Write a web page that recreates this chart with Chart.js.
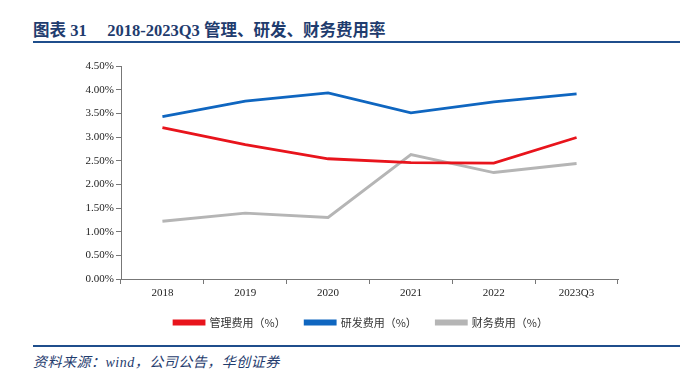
<!DOCTYPE html>
<html>
<head>
<meta charset="utf-8">
<script src="https://cdn.jsdelivr.net/npm/chart.js@4"></script>
<style>
    body { margin: 0; width: 695px; height: 370px; background: #fff; position: relative; overflow: hidden; }
    .title { position: absolute; left: 33px; top: 17px; font: bold 16.5px "Liberation Serif", "Noto Sans CJK SC", serif; color: #1f3c6e; white-space: nowrap; }
    .rule { position: absolute; left: 33px; width: 647px; height: 2px; background: #1f4e8c; }
    .source { position: absolute; left: 33px; top: 351px; font: italic 14px "Liberation Serif", "Noto Sans CJK SC", serif; letter-spacing: 0.5px; color: #1f3c6e; }
    .wrap { position: absolute; left: 0; top: 50px; width: 695px; height: 288px; }
</style>
</head>
<body>
<div class="title">图表 31&nbsp;&nbsp;&nbsp;&nbsp;&nbsp;2018-2023Q3 管理、研发、财务费用率</div>
<div class="rule" style="top:41px"></div>
<div class="wrap"><canvas id="chart"></canvas></div>
<div class="rule" style="top:345px"></div>
<div class="source">资料来源：wind，公司公告，华创证券</div>
<script>
// 数据
const categories = ['2018', '2019', '2020', '2021', '2022', '2023Q3'];
const mgmtRate = [3.20, 2.84, 2.54, 2.46, 2.45, 2.99];
const rdRate = [3.43, 3.76, 3.93, 3.51, 3.74, 3.91];
const finRate = [1.22, 1.39, 1.30, 2.63, 2.25, 2.44];
const yTicks = [0, 0.5, 1, 1.5, 2, 2.5, 3, 3.5, 4, 4.5];

const serif = '"Liberation Serif", "Times New Roman", serif';

document.addEventListener('DOMContentLoaded', () => {
    const ctx = document.getElementById('chart').getContext('2d');

    const line = (label, data, color) => ({
        label: label,
        data: data,
        borderColor: color,
        backgroundColor: color,
        borderWidth: 2.8,
        pointRadius: 0,
        tension: 0
    });

    new Chart(ctx, {
        type: 'line',
        data: {
            labels: categories,
            datasets: [
                // 全角空格撑开图例间距
                line('管理费用（%）\u3000', mgmtRate, '#e8141c'),
                line('研发费用（%）\u3000', rdRate, '#0f66c0'),
                line('财务费用（%）', finRate, '#b5b5b5')
            ]
        },
        options: {
            responsive: true,
            maintainAspectRatio: false,
            animation: false,
            layout: { padding: { top: 16, right: 28, left: 55, bottom: 0 } },
            scales: {
                x: {
                    offset: true,
                    grid: { offset: true, drawOnChartArea: false, tickLength: 5, color: '#777' },
                    border: { color: '#777' },
                    ticks: { color: '#222', font: { family: serif, size: 11 }, padding: 3 },
                    afterFit: (s) => { s.height = 24; }
                },
                y: {
                    min: 0,
                    max: 4.5,
                    afterBuildTicks: (s) => { s.ticks = yTicks.map(v => ({ value: v })); },
                    grid: { drawOnChartArea: false, tickLength: 5, color: '#777' },
                    border: { color: '#777' },
                    ticks: {
                        color: '#222',
                        font: { family: serif, size: 11 },
                        padding: 2,
                        callback: (v) => v.toFixed(2) + '%'
                    },
                    afterFit: (s) => { s.width = 66; }
                },
                // 占位的右侧空轴
                yPad: {
                    position: 'right',
                    grid: { display: false },
                    border: { display: false },
                    ticks: { display: false },
                    afterFit: (s) => { s.width = 49; }
                }
            },
            plugins: {
                legend: {
                    position: 'bottom',
                    labels: {
                        boxWidth: 30,
                        boxHeight: 3,
                        padding: 14,
                        color: '#333',
                        font: { family: '"Noto Sans CJK SC", sans-serif', size: 11 }
                    }
                },
                tooltip: { enabled: false }
            }
        }
    });
});
</script>
</body>
</html>
